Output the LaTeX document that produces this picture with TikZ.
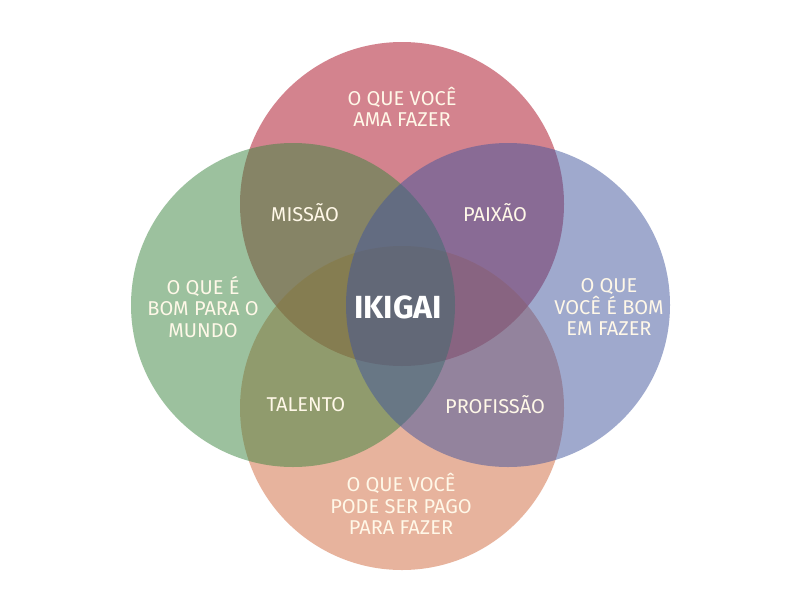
\documentclass[tikz,border=0pt]{standalone}
\usepackage{fontspec}
\setmainfont{Fira Sans}
\definecolor{cred}{RGB}{169,9,31}
\definecolor{cgreen}{RGB}{59,133,63}
\definecolor{cblue}{RGB}{65,85,157}
\definecolor{corange}{RGB}{209,105,61}
\definecolor{txt}{RGB}{255,248,232}
\begin{document}
\begin{tikzpicture}[x=1pt,y=-1pt,
  circ/.style={circle, minimum size=324pt, inner sep=0pt, fill opacity=0.5},
  lbl/.style={text=txt, font=\fontsize{20}{21.5}\selectfont, align=center, inner sep=0pt},
  big/.style={text=white, font=\fontsize{32}{36}\selectfont\bfseries, inner sep=0pt}]
\fill[white] (0,0) rectangle (800,600);
\node[circ, fill=cred] (top) at (402,204) {};
\node[circ, fill=corange] (bottom) at (402,408) {};
\node[circ, fill=cgreen] (left) at (293,305) {};
\node[circ, fill=cblue] (right) at (508,305) {};
\node[lbl] (ama) at (402,107) {O QUE VOCÊ\\AMA FAZER};
\node[lbl] (missao) at (305,213) {MISSÃO};
\node[lbl] (paixao) at (495,213) {PAIXÃO};
\node[lbl] (mundo) at (203,307) {O QUE É\\BOM PARA O\\MUNDO};
\node[lbl] (bom) at (609,307) {O QUE\\VOCÊ É BOM\\EM FAZER};
\node[big] (ikigai) at (398,307) {IKIGAI};
\node[lbl] (talento) at (306,405) {TALENTO};
\node[lbl] (profissao) at (495,405) {PROFISSÃO};
\node[lbl] (pago) at (401,504) {O QUE VOCÊ\\PODE SER PAGO\\PARA FAZER};
\end{tikzpicture}
\end{document}
